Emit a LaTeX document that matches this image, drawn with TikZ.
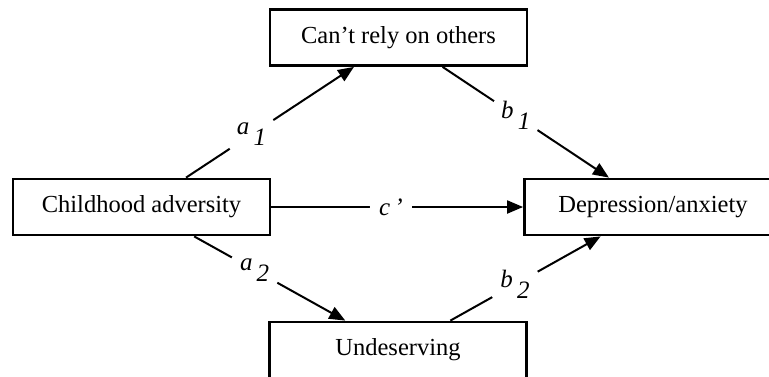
\documentclass[tikz,border=0pt]{standalone}
\usepackage{fontspec}
\setmainfont{Liberation Serif}
\usetikzlibrary{arrows.meta}
\begin{document}
\begin{tikzpicture}[x=1pt,y=-1pt,
  box/.style={draw=black,line width=2.8pt,rectangle,minimum width=257pt,minimum height=56pt,inner sep=0pt,font=\fontsize{24.5}{28}\selectfont},
  conn/.style={line width=2pt,-{Triangle[length=16pt,width=13pt]}},
  lab/.style={circle,fill=white,inner sep=0pt,minimum size=52pt,font=\fontsize{25}{28}\selectfont\itshape}]
\useasboundingbox (0,0) rectangle (769,376);
\clip (0,0) rectangle (769,376);
\node[box] (ca) at (141.5,207) {Childhood adversity};
\node[box] (cr) at (398.5,37.5) {Can’t rely on others};
\node[box] (dep) at (653,207) {Depression/anxiety};
\node[box] (un) at (398,350) {\raisebox{3pt}{Undeserving}};
\draw[conn] (ca) -- node[lab,pos=0.39] {a\,\raisebox{-11pt}{1}} (cr);
\draw[conn] (cr) -- node[lab,pos=0.44] {b\,\raisebox{-11pt}{1}} (dep);
\draw[conn] (ca) -- node[lab,pos=0.475,minimum size=42pt] {c\,’} (dep);
\draw[conn] (ca) -- node[lab,pos=0.40] {a\,\raisebox{-11pt}{2}} (un);
\draw[conn] (un) -- node[lab,pos=0.43] {b\,\raisebox{-11pt}{2}} (dep);
\end{tikzpicture}
\end{document}
